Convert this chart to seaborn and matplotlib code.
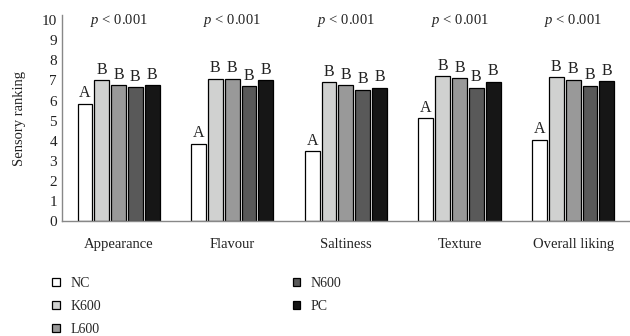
import matplotlib
matplotlib.use("Agg")
import matplotlib.pyplot as plt
import seaborn as sns
import pandas as pd

categories = ["Appearance", "Flavour", "Saltiness", "Texture", "Overall liking"]
groups = ["NC", "K600", "L600", "N600", "PC"]
NC = [5.85, 3.86, 3.49, 5.13, 4.06]
K600 = [7.01, 7.08, 6.91, 7.21, 7.15]
L600 = [6.76, 7.08, 6.75, 7.11, 7.03]
N600 = [6.65, 6.70, 6.53, 6.63, 6.73]
PC = [6.75, 7.01, 6.63, 6.93, 6.96]
letters = {"NC": "A", "K600": "B", "L600": "B", "N600": "B", "PC": "B"}
p_labels = ["< 0.001"] * 5
colors = ["#ffffff", "#d0d1d0", "#999999", "#595959", "#161616"]

series = {"NC": NC, "K600": K600, "L600": L600, "N600": N600, "PC": PC}
rows = []
for g in groups:
    for c, v in zip(categories, series[g]):
        rows.append({"category": c, "group": g, "value": v})
df = pd.DataFrame(rows)

sns.set_theme(style="white")
plt.rcParams["font.family"] = ["Liberation Serif", "DejaVu Serif"]
plt.rcParams["mathtext.fontset"] = "custom"
plt.rcParams["mathtext.it"] = "Liberation Serif:italic"
plt.rcParams["mathtext.rm"] = "Liberation Serif"

fig = plt.figure(figsize=(6.3, 3.36), dpi=100)
ax = fig.add_axes([0.098, 0.342, 0.902, 0.613])
sns.barplot(data=df, x="category", y="value", hue="group", order=categories,
            hue_order=groups, palette=colors, width=0.74, gap=0.12,
            edgecolor="black", linewidth=0.9, ax=ax, legend=True)

ax.set_ylim(0, 10.25)
ax.set_xlim(-0.5, 4.5)
ax.set_yticks(range(0, 11))
ax.tick_params(axis="both", length=0, labelsize=11, colors="#222222")
ax.tick_params(axis="x", pad=12, labelsize=10.5)
ax.set_xlabel("")
ax.set_ylabel("Sensory ranking", fontsize=10.5, color="#222222", labelpad=11)
for s in ["top", "right"]:
    ax.spines[s].set_visible(False)
for s in ["left", "bottom"]:
    ax.spines[s].set_color("#888888")
    ax.spines[s].set_linewidth(1.0)

for g, cont in zip(groups, ax.containers):
    for bar in cont:
        ax.text(bar.get_x() + bar.get_width() / 2, bar.get_height() + 0.12,
                letters[g], ha="center", va="bottom", fontsize=11.5, color="#222222")

for i, pl in enumerate(p_labels):
    ax.text(i, 10, "$p$ " + pl, ha="center", va="center", fontsize=10.5, color="#222222")

handles, labels = ax.get_legend_handles_labels()
ax.get_legend().remove()
fig.legend(handles, labels, ncol=2, loc="upper left", bbox_to_anchor=(0.083, 0.175),
           frameon=False, fontsize=10, handlelength=0.55, handleheight=0.55,
           handletextpad=0.75, columnspacing=13.8, labelspacing=0.72,
           borderaxespad=0, borderpad=0)

fig.savefig("out.png", dpi=100)
